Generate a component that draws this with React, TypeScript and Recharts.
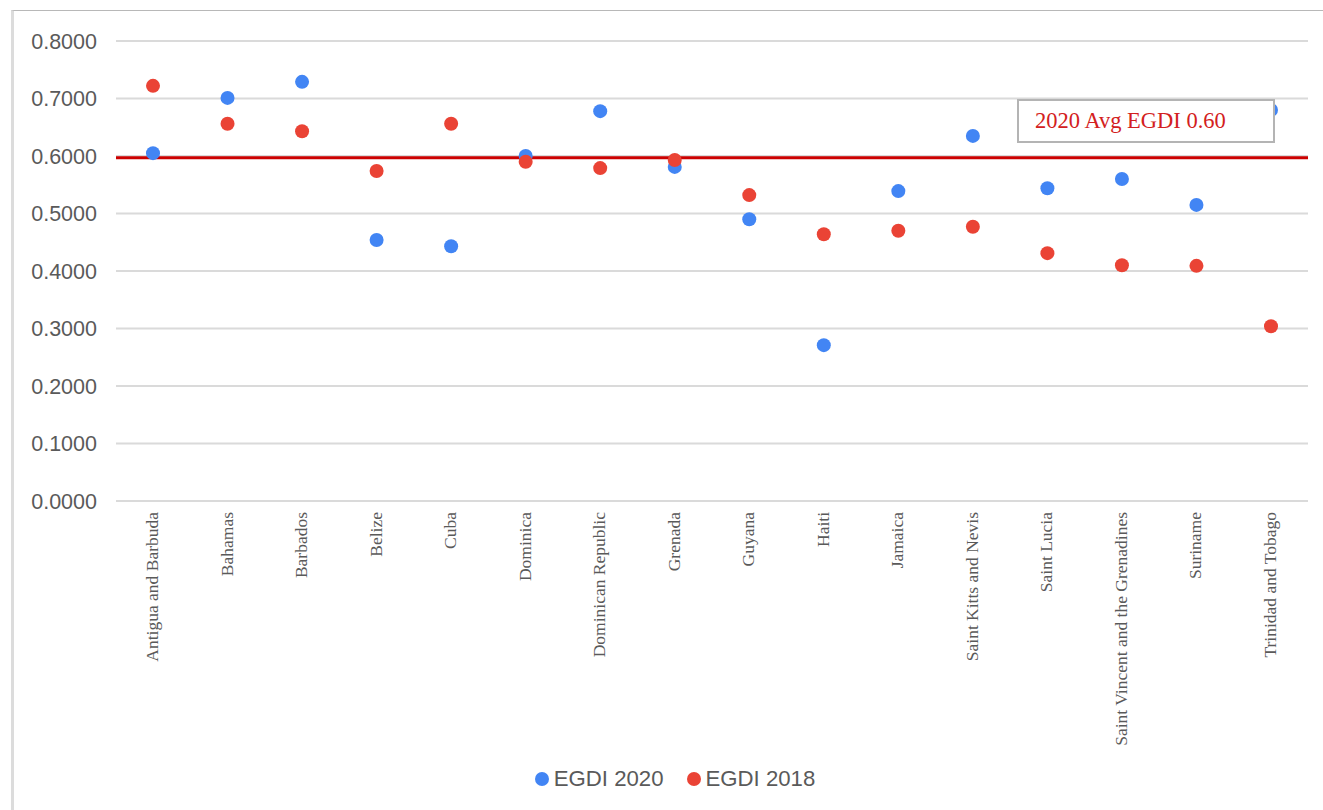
import {
  ComposedChart,
  Line,
  XAxis,
  YAxis,
  CartesianGrid,
  Legend,
  ReferenceLine,
} from "recharts";

const countries = [
  "Antigua and Barbuda",
  "Bahamas",
  "Barbados",
  "Belize",
  "Cuba",
  "Dominica",
  "Dominican Republic",
  "Grenada",
  "Guyana",
  "Haiti",
  "Jamaica",
  "Saint Kitts and Nevis",
  "Saint Lucia",
  "Saint Vincent and the Grenadines",
  "Suriname",
  "Trinidad and Tobago",
];

const egdi2020 = [
  0.605, 0.701, 0.729, 0.454, 0.443, 0.6, 0.678, 0.581, 0.49, 0.271, 0.539,
  0.635, 0.544, 0.56, 0.515, 0.68,
];

const egdi2018 = [
  0.722, 0.656, 0.643, 0.574, 0.656, 0.59, 0.579, 0.593, 0.532, 0.464, 0.47,
  0.477, 0.431, 0.41, 0.409, 0.304,
];

const yTicks = [0, 0.1, 0.2, 0.3, 0.4, 0.5, 0.6, 0.7, 0.8];
const avg2020 = 0.597;
const avgLabel = "2020 Avg EGDI 0.60";

const BLUE = "#4285F4";
const RED = "#EA4335";

const series = [
  { key: "EGDI 2020", color: BLUE },
  { key: "EGDI 2018", color: RED },
];

const data = countries.map((name, i) => ({
  name,
  "EGDI 2020": egdi2020[i],
  "EGDI 2018": egdi2018[i],
}));

const CountryTick = ({ x, y, payload }: any) => (
  <text
    x={0}
    y={0}
    transform={`translate(${x + 5},${y + 3}) rotate(-90)`}
    textAnchor="end"
    fontFamily="'Liberation Serif', 'Times New Roman', serif"
    fontSize={17.5}
    fill="#5a5a5a"
  >
    {payload.value}
  </text>
);

const LegendContent = () => (
  <div
    style={{
      display: "flex",
      justifyContent: "center",
      gap: 23,
      paddingLeft: 42,
      fontFamily: "'Liberation Sans', Arial, sans-serif",
      fontSize: 22.2,
      color: "#5a5a5a",
      height: 26,
      alignItems: "center",
    }}
  >
    {series.map((s) => (
      <span key={s.key} style={{ display: "flex", alignItems: "center" }}>
        <span
          style={{
            width: 14,
            height: 14,
            borderRadius: 7,
            background: s.color,
            marginRight: 5,
            display: "inline-block",
          }}
        />
        {s.key}
      </span>
    ))}
  </div>
);

export default function App() {
  return (
    <div
      style={{
        position: "absolute",
        left: 0,
        top: 0,
        width: 1323,
        height: 810,
        background: "#fff",
      }}
    >
      <div
        style={{
          position: "absolute",
          left: 11,
          top: 10,
          right: 0,
          bottom: 0,
          borderTop: "1px solid #b8b8b8",
          borderLeft: "3px solid #dcdcdc",
        }}
      />
      <ComposedChart
        width={1323}
        height={810}
        data={data}
        margin={{ top: 41, right: 15, left: 0, bottom: 18 }}
        style={{ position: "absolute", left: 0, top: 0 }}
      >
        <CartesianGrid vertical={false} stroke="#dadada" strokeWidth={2} />
        <XAxis
          dataKey="name"
          interval={0}
          axisLine={false}
          tickLine={false}
          height={265}
          padding={{ left: 37, right: 37 }}
          tick={<CountryTick />}
        />
        <YAxis
          domain={[0, 0.8]}
          ticks={yTicks}
          width={116}
          axisLine={false}
          tickLine={false}
          tickSize={6}
          tickMargin={13}
          tickFormatter={(v: number) => v.toFixed(4)}
          tick={{
            fill: "#5a5a5a",
            fontSize: 21.5,
            fontFamily: "'Liberation Sans', Arial, sans-serif",
          }}
        />
        <ReferenceLine y={avg2020} stroke="#cc0000" strokeWidth={3} />
        {series.map((s) => (
          <Line
            key={s.key}
            dataKey={s.key}
            stroke="none"
            dot={{ r: 7, fill: s.color, stroke: "none" }}
            activeDot={false}
            isAnimationActive={false}
          />
        ))}
        <Legend verticalAlign="bottom" content={<LegendContent />} />
      </ComposedChart>
      <div
        style={{
          position: "absolute",
          left: 1017,
          top: 99,
          width: 238,
          height: 40,
          border: "2px solid #b4b4b4",
          background: "#fff",
          fontFamily: "'Liberation Serif', 'Times New Roman', serif",
          fontSize: 22.5,
          color: "#d32020",
          lineHeight: "40px",
          paddingLeft: 16,
          boxSizing: "content-box",
        }}
      >
        {avgLabel}
      </div>
    </div>
  );
}
